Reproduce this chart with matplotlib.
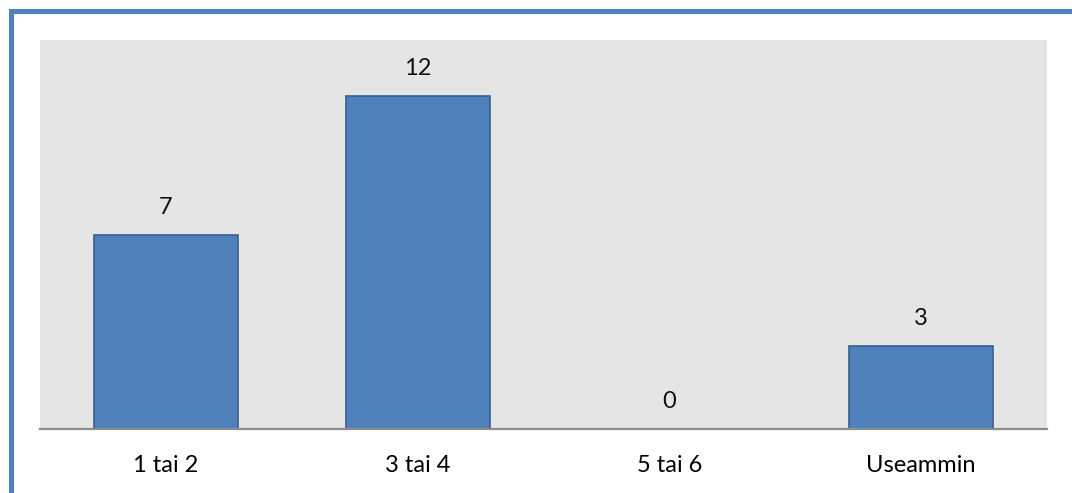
import matplotlib
matplotlib.use('Agg')
import matplotlib.pyplot as plt
from matplotlib.patches import Rectangle

categories = ['1 tai 2', '3 tai 4', '5 tai 6', 'Useammin']
counts = [7, 12, 0, 3]

plt.rcParams['font.family'] = ['Lato', 'DejaVu Sans']

fig = plt.figure(figsize=(10.72, 4.93), dpi=100)
W, H = 1072, 493
ax = fig.add_axes([40 / W, (H - 429) / H, 1007 / W, 389 / H])
ax.set_facecolor('#E5E5E5')

x = range(len(categories))
ax.bar(x, counts, width=0.572, color='#4F81BD', edgecolor='#3A5F8C', linewidth=1.2, zorder=2)
for xi, v in zip(x, counts):
    ax.annotate(str(v), (xi, v), xytext=(0, 19.5), textcoords='offset points',
                ha='center', va='center', fontsize=17, color='#111111')

ax.set_xlim(-0.5, len(categories) - 0.5)
ax.set_ylim(0, 14)
ax.set_xticks(list(x))
ax.set_xticklabels(categories, fontsize=17)
ax.tick_params(axis='x', length=0, pad=19)
ax.set_yticks([])
for side in ['top', 'right', 'left']:
    ax.spines[side].set_visible(False)
ax.spines['bottom'].set_color('#8C8C8C')
ax.spines['bottom'].set_linewidth(1.6)
ax.spines['bottom'].set_zorder(3)

# outer frame, runs off the right and bottom edges
frame = Rectangle((10.8 / W, -0.2), 1.2, 1 - 10.8 / H + 0.2, transform=fig.transFigure,
                  fill=False, edgecolor='#4F81BD', linewidth=3.6, clip_on=False)
fig.patches.append(frame)

plt.savefig('out.png', dpi=100)
